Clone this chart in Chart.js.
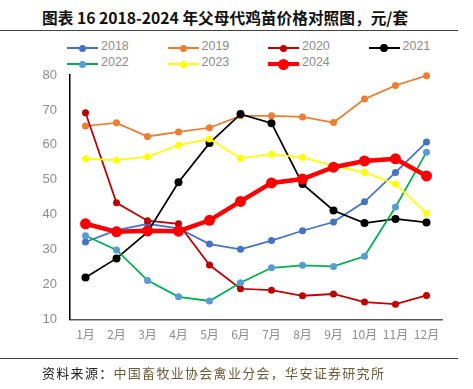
<!DOCTYPE html>
<html>
<head>
<meta charset="utf-8">
<script src="https://cdn.jsdelivr.net/npm/chart.js@4"></script>
<style>
  body { margin: 0; width: 473px; height: 389px; background: #fff; position: relative; overflow: hidden;
         font-family: "Noto Sans CJK SC", sans-serif; }
  #title { position: absolute; left: 42px; top: 6px; font-size: 15.7px; font-weight: bold; color: #111; white-space: nowrap; }
  .rule { position: absolute; left: 0; width: 458px; height: 1px; background: #444; }
  #legend .item { position: absolute; height: 16px; }
  #legend .ln { position: absolute; left: 0; width: 31px; }
  #legend .dot { position: absolute; border-radius: 50%; }
  #legend .txt { position: absolute; left: 34px; top: -1px; font-family: "Liberation Sans", Arial, sans-serif;
                 font-size: 12.5px; color: #8c8c8c; }
  #source { position: absolute; left: 42px; top: 363px; font-size: 13px; letter-spacing: 1.3px; color: #6b5a36; white-space: nowrap; }
  #source b { font-weight: normal; color: #222; }
  #chart { position: absolute; left: 0; top: 0; }
</style>
</head>
<body>
<div id="title">图表 16 2018-2024 年父母代鸡苗价格对照图，元/套</div>
<div class="rule" style="top:30px"></div>
<div id="legend"></div>
<canvas id="chart" width="473" height="389"></canvas>
<div class="rule" style="top:358px"></div>
<div id="source"><b>资料来源：</b>中国畜牧业协会禽业分会，华安证券研究所</div>
<script>
const months = ['1月', '2月', '3月', '4月', '5月', '6月', '7月', '8月', '9月', '10月', '11月', '12月'];
const yearNames = ['2018', '2019', '2020', '2021', '2022', '2023', '2024'];

const price2018 = [32.2, 35.6, 37.4, 36.1, 31.6, 30.1, 32.6, 35.4, 37.9, 43.7, 52.1, 60.8];
const price2019 = [65.4, 66.3, 62.4, 63.7, 64.9, 68.3, 68.3, 68.0, 66.4, 73.1, 77.0, 79.8];
const price2020 = [69.2, 43.4, 38.3, 37.4, 25.6, 18.8, 18.4, 16.8, 17.3, 15.0, 14.4, 16.9];
const price2021 = [22.0, 27.5, 35.0, 49.3, 60.5, 68.8, 66.2, 48.8, 41.2, 37.6, 38.8, 37.8];
const price2022 = [34.0, 29.9, 21.2, 16.5, 15.3, 20.5, 24.8, 25.5, 25.2, 28.1, 42.2, 57.9];
const price2023 = [56.0, 55.6, 56.6, 59.9, 61.7, 56.2, 57.3, 56.4, 54.0, 52.1, 48.8, 40.4];
const price2024 = [37.4, 35.1, 35.4, 35.3, 38.4, 43.8, 49.1, 50.2, 53.6, 55.4, 56.0, 51.1];

const yTicks = [10, 20, 30, 40, 50, 60, 70, 80];

const seriesData = [price2018, price2019, price2020, price2021, price2022, price2023, price2024];
const lineColors = ['#4472C4', '#ED7D31', '#C00000', '#000000', '#00B050', '#FFFF00', '#FF0000'];
const pointColors = ['#4472C4', '#ED7D31', '#C00000', '#000000', '#5B9BD5', '#FFFF00', '#FF0000'];
const lineWidths = [1.75, 1.75, 1.75, 1.75, 1.75, 1.75, 4.5];
const pointSizes = [3.5, 3.5, 3.5, 4, 3.5, 3.5, 5.5];

// legend, 4 columns
const legend = document.getElementById('legend');
yearNames.forEach((name, i) => {
  const item = document.createElement('div');
  item.className = 'item';
  item.style.left = (67 + (i % 4) * 100.5) + 'px';
  item.style.top = (40 + Math.floor(i / 4) * 16) + 'px';
  const lw = lineWidths[i] > 3 ? 4 : 2;
  const r = pointSizes[i];
  item.innerHTML =
    `<span class="ln" style="top:${8 - lw / 2}px;height:${lw}px;background:${lineColors[i]}"></span>` +
    `<span class="dot" style="left:${15.5 - r}px;top:${8 - r}px;width:${2 * r}px;height:${2 * r}px;background:${pointColors[i]}"></span>` +
    `<span class="txt">${name}</span>`;
  legend.appendChild(item);
});

const ctx = document.getElementById('chart').getContext('2d');
new Chart(ctx, {
  type: 'line',
  data: {
    labels: months,
    datasets: seriesData.map((vals, i) => ({
      label: yearNames[i],
      data: vals,
      borderColor: lineColors[i],
      backgroundColor: pointColors[i],
      pointBackgroundColor: pointColors[i],
      pointBorderColor: pointColors[i],
      borderWidth: lineWidths[i],
      pointRadius: pointSizes[i],
      pointBorderWidth: 0,
      tension: 0,
      clip: false,
      order: 7 - i
    }))
  },
  options: {
    responsive: false,
    animation: false,
    layout: { padding: { left: 20, right: 31, top: 75, bottom: 39.5 } },
    plugins: { legend: { display: false }, tooltip: { enabled: false } },
    scales: {
      x: {
        offset: true,
        grid: { display: false, drawTicks: false },
        border: { color: '#555', width: 1.5 },
        ticks: { color: '#8c8c8c', padding: 8, maxRotation: 0, minRotation: 0, autoSkip: false,
                 font: { family: 'Noto Sans CJK SC', size: 12 } },
        afterFit: s => { s.height = 30; }
      },
      y: {
        min: 10,
        max: 80,
        afterBuildTicks: s => { s.ticks = yTicks.map(v => ({ value: v })); },
        grid: { display: false, drawTicks: false },
        border: { color: '#000', width: 1.5 },
        ticks: { color: '#8c8c8c', padding: 13, font: { family: 'Liberation Sans', size: 13 } },
        afterFit: s => { s.width = 50; }
      }
    }
  }
});
</script>
</body>
</html>
